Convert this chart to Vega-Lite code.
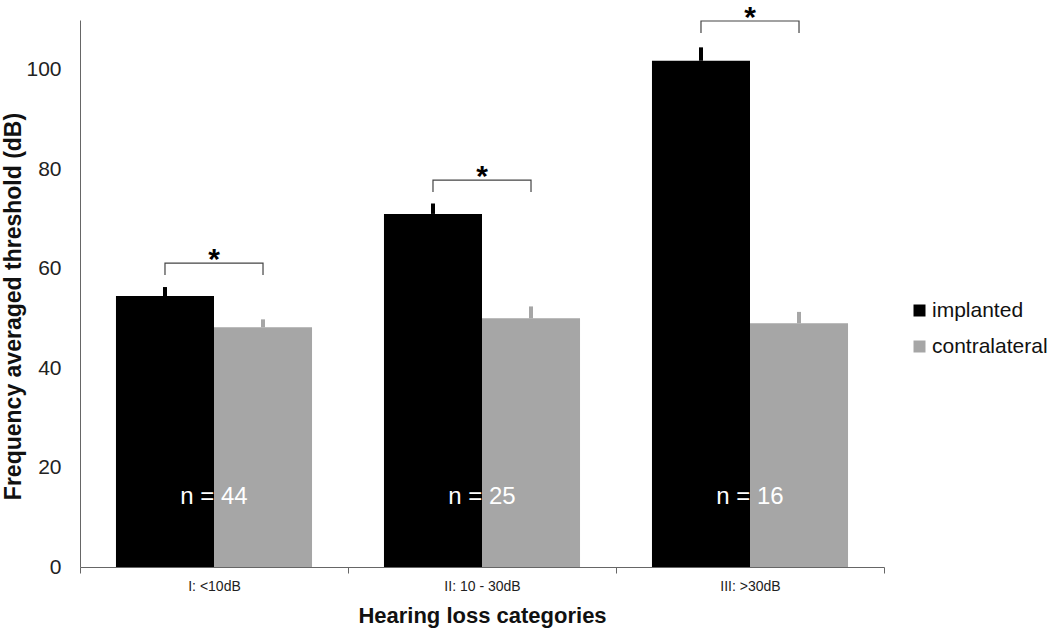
{
  "$schema": "https://vega.github.io/schema/vega-lite/v6.json",
  "width": 804,
  "height": 547,
  "autosize": {"type": "none"},
  "padding": {"left": 80, "top": 20, "right": 166, "bottom": 66},
  "background": "white",
  "config": {
    "font": "Liberation Sans",
    "view": {"stroke": null},
    "axis": {"labelFont": "Liberation Sans", "titleFont": "Liberation Sans"}
  },
  "datasets": {
    "bars": [
      {"cat": "I: <10dB", "series": "implanted", "value": 54.5, "err": 56.3},
      {"cat": "I: <10dB", "series": "contralateral", "value": 48.2, "err": 49.8},
      {"cat": "II: 10 - 30dB", "series": "implanted", "value": 71.0, "err": 73.1},
      {"cat": "II: 10 - 30dB", "series": "contralateral", "value": 50.0, "err": 52.4},
      {"cat": "III: >30dB", "series": "implanted", "value": 101.8, "err": 104.5},
      {"cat": "III: >30dB", "series": "contralateral", "value": 49.0, "err": 51.3}
    ],
    "brackets": [
      {"cat": "I: <10dB", "series": "implanted", "y": 58.7, "ord": 1},
      {"cat": "I: <10dB", "series": "implanted", "y": 61.1, "ord": 2},
      {"cat": "I: <10dB", "series": "contralateral", "y": 61.1, "ord": 3},
      {"cat": "I: <10dB", "series": "contralateral", "y": 58.7, "ord": 4},
      {"cat": "II: 10 - 30dB", "series": "implanted", "y": 75.4, "ord": 1},
      {"cat": "II: 10 - 30dB", "series": "implanted", "y": 77.8, "ord": 2},
      {"cat": "II: 10 - 30dB", "series": "contralateral", "y": 77.8, "ord": 3},
      {"cat": "II: 10 - 30dB", "series": "contralateral", "y": 75.4, "ord": 4},
      {"cat": "III: >30dB", "series": "implanted", "y": 107.4, "ord": 1},
      {"cat": "III: >30dB", "series": "implanted", "y": 109.8, "ord": 2},
      {"cat": "III: >30dB", "series": "contralateral", "y": 109.8, "ord": 3},
      {"cat": "III: >30dB", "series": "contralateral", "y": 107.4, "ord": 4}
    ],
    "groups": [
      {"cat": "I: <10dB", "n": "n = 44", "nY": 14, "starY": 61.1},
      {"cat": "II: 10 - 30dB", "n": "n = 25", "nY": 14, "starY": 77.8},
      {"cat": "III: >30dB", "n": "n = 16", "nY": 14, "starY": 109.8}
    ]
  },
  "layer": [
    {
      "data": {"name": "bars"},
      "mark": {"type": "bar"},
      "encoding": {
        "x": {
          "field": "cat", "type": "nominal", "sort": null,
          "scale": {"paddingInner": 0, "paddingOuter": 0},
          "axis": {
            "title": "Hearing loss categories",
            "titleFontSize": 22, "titleFontWeight": "bold", "titleColor": "#111",
            "titlePadding": 12,
            "labelAngle": 0, "labelFontSize": 14, "labelColor": "#222", "labelPadding": 6,
            "tickBand": "extent", "tickSize": 6, "tickColor": "#666",
            "domainColor": "#666", "grid": false
          }
        },
        "xOffset": {
          "field": "series", "type": "nominal", "sort": ["implanted", "contralateral"],
          "scale": {"paddingInner": 0, "paddingOuter": 0.367}
        },
        "y": {
          "field": "value", "type": "quantitative",
          "scale": {"domain": [0, 110], "nice": false},
          "axis": {
            "title": "Frequency averaged threshold (dB)",
            "titleFontSize": 23, "titleFontWeight": "bold", "titleColor": "#111",
            "titleX": -55, "titleY": 286,
            "values": [0, 20, 40, 60, 80, 100],
            "labelFontSize": 21, "labelColor": "#222", "labelPadding": 19,
            "ticks": false, "grid": false, "domainColor": "#666"
          }
        },
        "color": {
          "field": "series", "type": "nominal",
          "sort": ["implanted", "contralateral"],
          "scale": {"domain": ["implanted", "contralateral"], "range": ["#000000", "#a6a6a6"]},
          "legend": {
            "title": null, "orient": "none", "legendX": 829, "legendY": 280,
            "symbolType": "square", "symbolSize": 144, "symbolStrokeWidth": 0,
            "labelFontSize": 21, "labelColor": "#111", "labelOffset": 2, "labelLimit": 0, "rowPadding": 14
          }
        }
      }
    },
    {
      "data": {"name": "bars"},
      "mark": {"type": "rule", "strokeWidth": 4},
      "encoding": {
        "x": {"field": "cat", "type": "nominal", "sort": null},
        "xOffset": {"field": "series", "type": "nominal", "sort": ["implanted", "contralateral"]},
        "y": {"field": "value", "type": "quantitative"},
        "y2": {"field": "err"},
        "color": {"field": "series", "type": "nominal"}
      }
    },
    {
      "data": {"name": "brackets"},
      "mark": {"type": "line", "color": "#444", "strokeWidth": 1.2, "clip": false},
      "encoding": {
        "x": {"field": "cat", "type": "nominal", "sort": null},
        "xOffset": {"field": "series", "type": "nominal", "sort": ["implanted", "contralateral"]},
        "y": {"field": "y", "type": "quantitative"},
        "detail": {"field": "cat"},
        "order": {"field": "ord"}
      }
    },
    {
      "data": {"name": "groups"},
      "mark": {"type": "text", "fontSize": 30, "fontWeight": "bold", "color": "#000", "baseline": "alphabetic", "dy": 6, "clip": false},
      "encoding": {
        "x": {"field": "cat", "type": "nominal", "sort": null},
        "y": {"field": "starY", "type": "quantitative"},
        "text": {"value": "*"}
      }
    },
    {
      "data": {"name": "groups"},
      "mark": {"type": "text", "fontSize": 24, "color": "#ffffff", "baseline": "middle"},
      "encoding": {
        "x": {"field": "cat", "type": "nominal", "sort": null},
        "y": {"field": "nY", "type": "quantitative"},
        "text": {"field": "n"}
      }
    }
  ]
}
